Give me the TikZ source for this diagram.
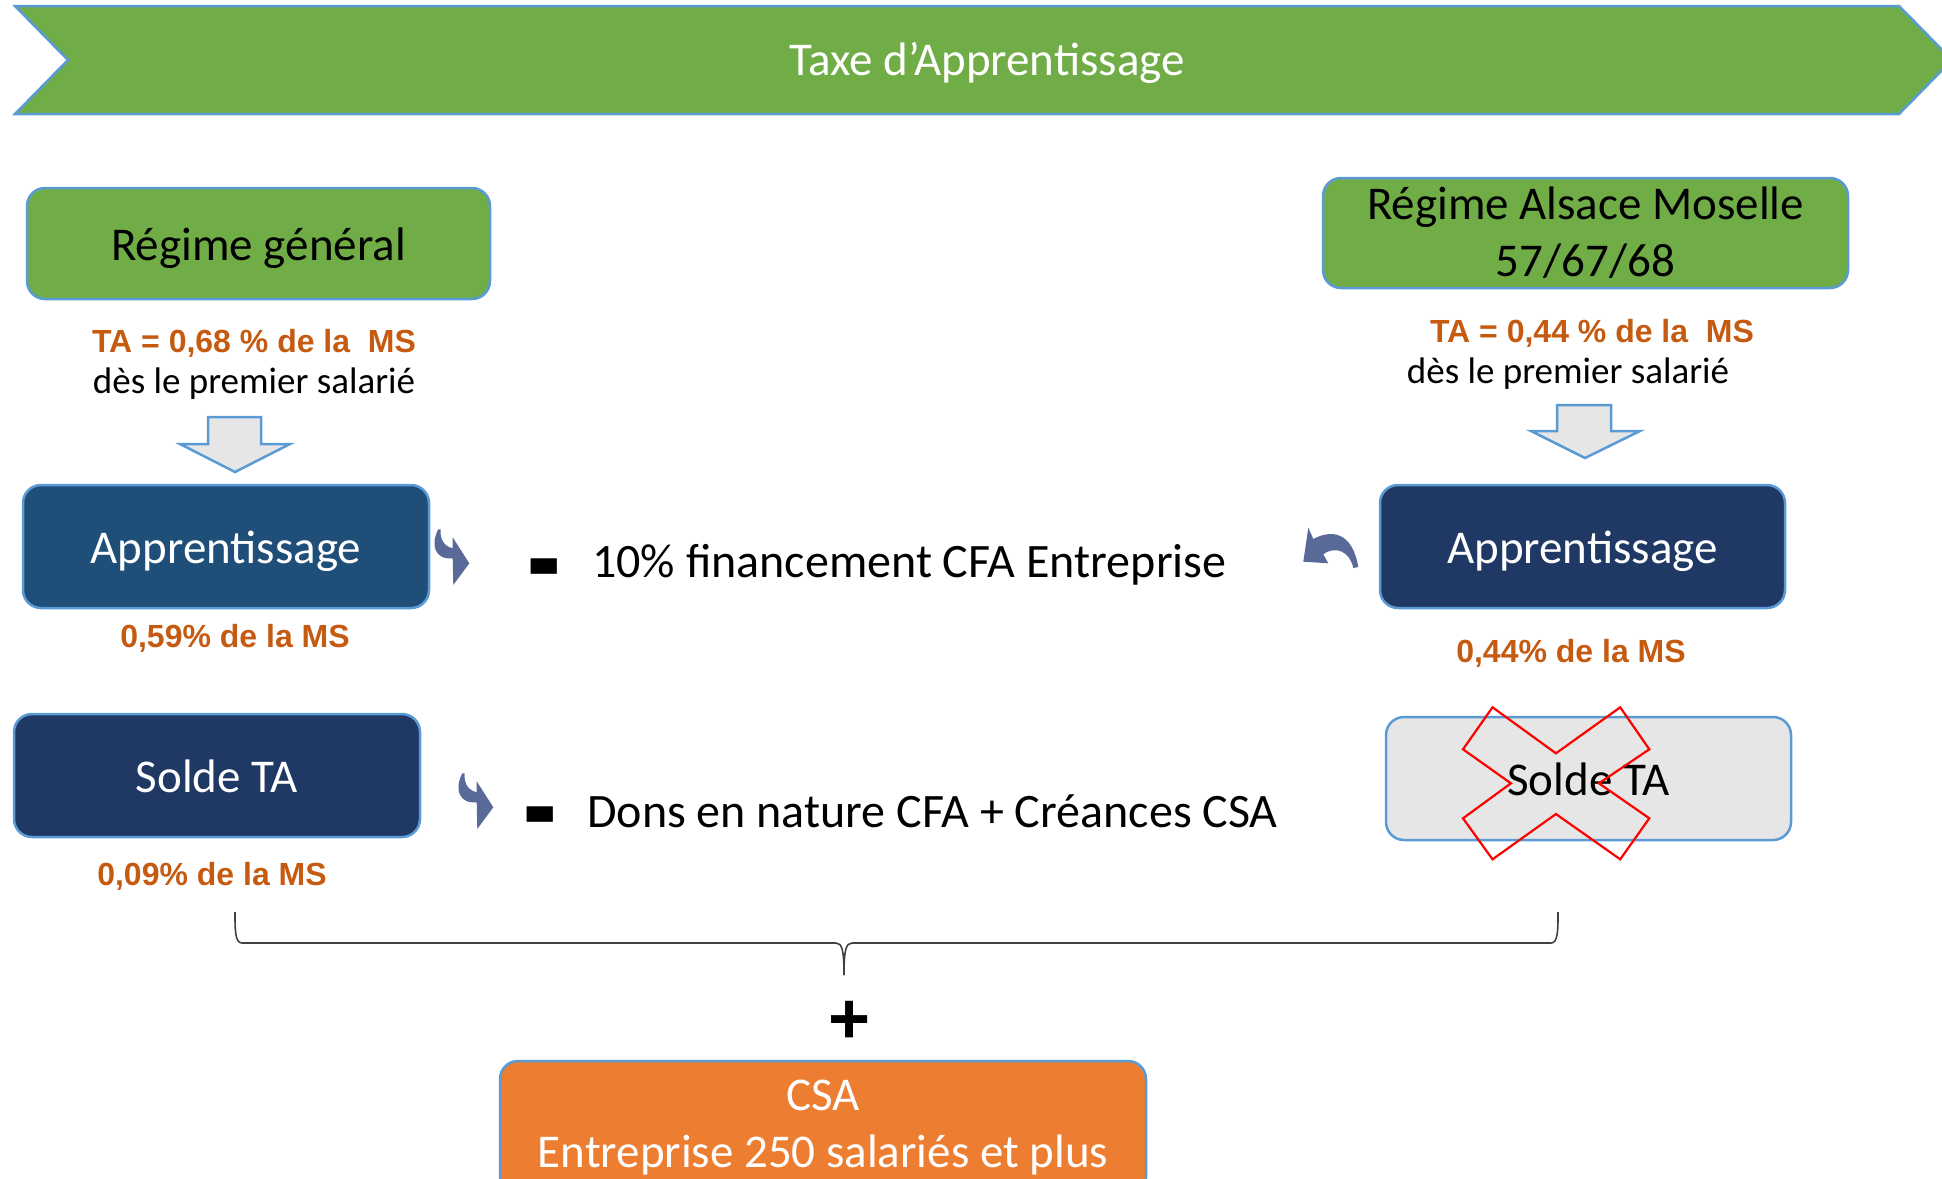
\documentclass[tikz,border=0pt]{standalone}
\usepackage{fontspec}
\setmainfont{Carlito}
\newfontfamily\arialf{Liberation Sans}
\usepackage{graphicx}
\definecolor{grn}{HTML}{70AD47}
\definecolor{bord}{HTML}{5B9BD5}
\definecolor{blueA}{HTML}{1F4E79}
\definecolor{navy}{HTML}{203864}
\definecolor{orangeT}{HTML}{C55A11}
\definecolor{grayF}{HTML}{E7E6E6}
\definecolor{csaF}{HTML}{ED7D31}
\definecolor{curv}{HTML}{5A6A98}
\definecolor{braceC}{HTML}{404040}
\begin{document}
\begin{tikzpicture}[x=1pt,y=-1pt,
  box/.style={draw=bord, line width=2.5pt, rounded corners=18pt, inner sep=0pt,
    font=\fontsize{47}{57}\selectfont},
  oneline/.style={text height=40pt, text depth=7pt},
  pct/.style={anchor=base, text=orangeT, inner sep=0pt,
    font=\arialf\bfseries\fontsize{32}{38}\selectfont},
  plain/.style={anchor=base, inner sep=0pt, font=\fontsize{37}{44}\selectfont},
  bigtext/.style={anchor=base west, inner sep=0pt, font=\fontsize{48}{57}\selectfont},
  minus/.style={anchor=base, inner sep=0pt, font=\arialf\bfseries\fontsize{53}{53}\selectfont},
  curvearrow/.style={fill=curv, draw=none},
  bannerstyle/.style={fill=grn, draw=bord, line width=2.5pt},
  bracestyle/.style={draw=braceC, line width=1.6pt, line join=round}
]
\useasboundingbox (0,0) rectangle (1942,1178);
\clip (0,0) rectangle (1942,1178);

% banner
\draw[bannerstyle] (15,6) -- (1899,6) -- (1952,60) -- (1899,114) -- (15,114) -- (68,60) -- cycle;
\node[anchor=base, inner sep=0pt, text=white, font=\fontsize{47}{56}\selectfont] (title) at (987,75) {Taxe d’Apprentissage};

% left column
\node[box, oneline, fill=grn, minimum width=463pt, minimum height=111pt] (gen) at (258.5,243.5) {Régime général};
\node[pct] (ta1) at (254,352) {TA = 0,68 \% de la \ MS};
\node[plain] (ds1) at (254,393) {dès le premier salarié};
\draw[fill=grayF, draw=bord, line width=2.5pt] (208,417) -- (261,417) -- (261,444) -- (290,444) -- (235,472) -- (180,444) -- (208,444) -- cycle;

\node[box, oneline, fill=blueA, text=white, minimum width=406pt, minimum height=123pt] (appL) at (226,546.5) {Apprentissage};
\node[pct] (p59) at (235,647) {0,59\% de la MS};
\node[box, oneline, fill=navy, text=white, minimum width=406pt, minimum height=123pt] (soldeL) at (217,775.5) {Solde TA};
\node[pct] (p09) at (212,885) {0,09\% de la MS};

% right column
\node[box, fill=grn, align=center, minimum width=525pt, minimum height=110pt] (als) at (1585.5,233) {Régime Alsace Moselle\\57/67/68};
\node[pct] (ta2) at (1592,342) {TA = 0,44 \% de la \ MS};
\node[plain] (ds2) at (1568,383) {dès le premier salarié};
\draw[fill=grayF, draw=bord, line width=2.5pt] (1557,405) -- (1611,405) -- (1611,431) -- (1640,431) -- (1585,458) -- (1531,431) -- (1557,431) -- cycle;

\node[box, oneline, fill=navy, text=white, minimum width=405pt, minimum height=123pt] (appR) at (1582.5,546.5) {Apprentissage};
\node[pct] (p44) at (1571,662) {0,44\% de la MS};
\node[box, oneline, fill=grayF, minimum width=405pt, minimum height=123pt] (soldeR) at (1588.5,778.5) {Solde TA};
\draw[draw=red, line width=2.2pt, line join=miter]
  (1492.5,707.3) -- (1555.9,753.3) -- (1620.2,707.3) -- (1649.3,749.3) -- (1598.9,783.3) -- (1649.3,818.3)
  -- (1620.2,859.3) -- (1555.9,814) -- (1492.5,859.3) -- (1463,818.3) -- (1510.9,783.3) -- (1463,749.3) -- cycle;

% middle texts
\node[minus] (m1) at (544,608) {\scalebox{1}[2.95]{–}};
\node[bigtext] (fin) at (592,577) {10\% financement CFA Entreprise};
\node[minus] (m2) at (540,856) {\scalebox{1}[2.95]{–}};
\node[bigtext] (dons) at (587,827) {Dons en nature CFA + Créances CSA};

% curved arrows
\begin{scope}[shift={(433,529)}]
\fill[curvearrow] (5.3,0.3) .. controls (-3,16) and (2,31) .. (19.7,29.3) -- (20.3,56) -- (36.3,34.3) -- (19.7,8.3) -- (19.7,19.3) .. controls (11,17) and (7,11) .. (7.5,0.3) -- cycle;
\end{scope}
\begin{scope}[shift={(457,773)}]
\fill[curvearrow] (5.3,0.3) .. controls (-3,16) and (2,31) .. (19.7,29.3) -- (20.3,56) -- (36.3,34.3) -- (19.7,8.3) -- (19.7,19.3) .. controls (11,17) and (7,11) .. (7.5,0.3) -- cycle;
\end{scope}
\fill[curvearrow] (1308.3,527.7) -- (1313.3,539) .. controls (1330,530) and (1352,530) .. (1358.3,567) -- (1353.3,568) .. controls (1350,552) and (1336,545) .. (1323.3,554.3) -- (1328.3,563.3) -- (1303.3,561.7) -- cycle;

% brace
\coordinate (bl) at (235,912);
\coordinate (br) at (1558,912);
\coordinate (bm) at (844,975);
\draw[bracestyle] (bl) .. controls (235,930) and (235,943) .. (242,943) -- (836,943) .. controls (842,943) and (844,950) .. (bm);
\draw[bracestyle] (bm) .. controls (844,950) and (846,943) .. (852,943) -- (1551,943) .. controls (1558,943) and (1558,930) .. (br);

% plus and CSA
\node[inner sep=0pt, font=\arialf\bfseries\fontsize{72}{72}\selectfont] (plus) at (850,1022) {+};
\node[box, fill=csaF, text=white, align=center, minimum width=646pt, minimum height=134pt] (csa) at (823,1128) {CSA\\Entreprise 250 salariés et plus};
\end{tikzpicture}
\end{document}
